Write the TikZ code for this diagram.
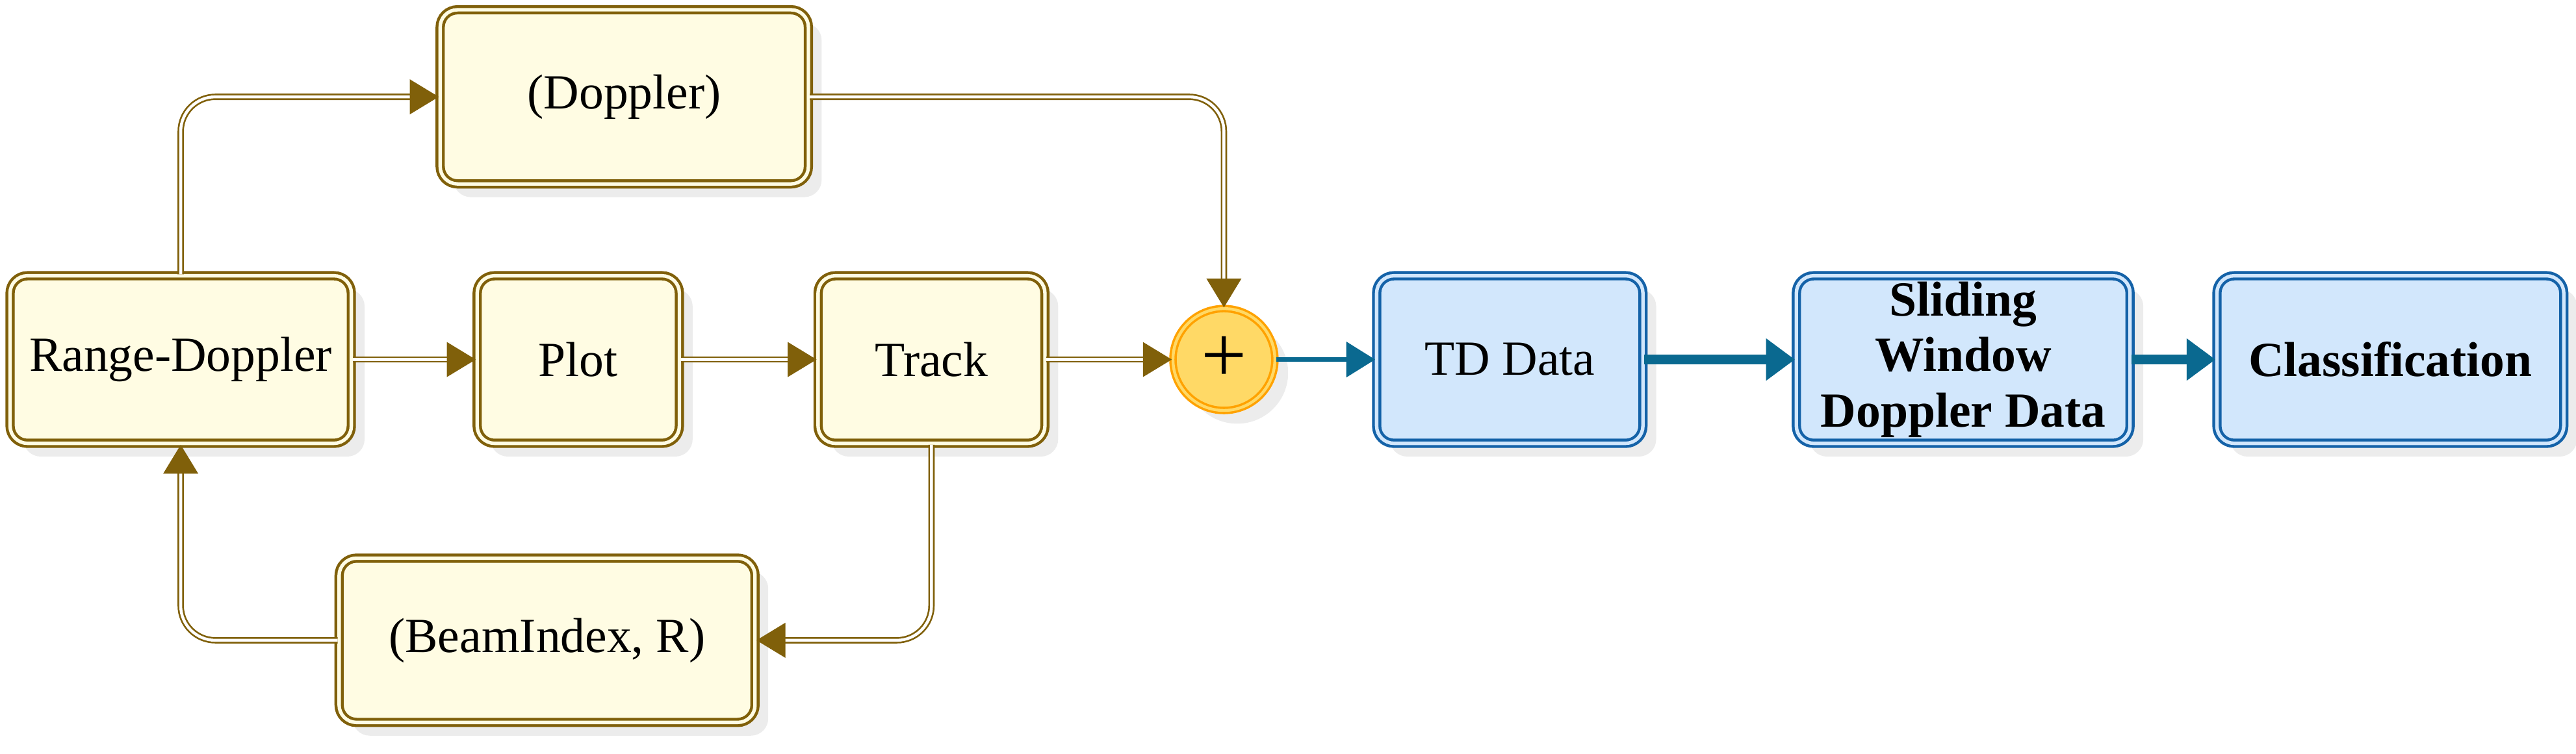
\documentclass[tikz,border=0pt]{standalone}
\usepackage{fontspec}
\setmainfont{Liberation Serif}
\usetikzlibrary{arrows.meta,positioning,shadows}
\definecolor{brn}{HTML}{80600A}
\definecolor{cream}{HTML}{FFFCE3}
\definecolor{bluedge}{HTML}{1462A8}
\definecolor{bluefill}{HTML}{D2E7FC}
\definecolor{bluearr}{HTML}{0A6990}
\definecolor{plusfill}{HTML}{FFD966}
\definecolor{plusedge}{HTML}{FFA200}
\begin{document}
\begin{tikzpicture}[x=0.01cm, y=0.01cm,
  every node/.style={font=\fontsize{8.5}{9.6}\selectfont},
  stage/.style={draw=brn, double=cream, double distance=0.6pt, line width=0.5pt, fill=cream, rounded corners=3pt, drop shadow={opacity=0.15}},
  data/.style={draw=bluedge, double=bluefill, double distance=0.6pt, line width=0.5pt, fill=bluefill, rounded corners=3pt, drop shadow={opacity=0.15}, font=\fontsize{8.5}{9.6}\selectfont\bfseries},
  flow/.style={draw=brn, double=white, double distance=0.5pt, line width=0.3pt, rounded corners=6pt, -{Triangle[length=5pt,width=6pt,fill=brn]}},
  feed/.style={draw=bluearr, line width=1.6pt, -{Triangle[length=5pt,width=7pt]}}]
  \useasboundingbox (0,0) rectangle (1568,-459);
  \node[stage, minimum width=2.04cm, minimum height=1.02cm] (rd) at (110,-219) {Range-Doppler};
  \node[stage, minimum width=1.23cm, minimum height=1.02cm] (plot) at (352,-219) {Plot};
  \node[stage, minimum width=1.38cm, minimum height=1.02cm] (track) at (567,-219) {Track};
  \node[stage, minimum width=2.24cm, minimum height=1.06cm] (dop) at (380,-59) {(Doppler)};
  \node[stage, minimum width=2.53cm, minimum height=1.0cm] (beam) at (333,-390) {(BeamIndex, R)};
  \node[circle, draw=plusedge, double=plusfill, double distance=0.5pt, fill=plusfill, minimum size=0.62cm, inner sep=0pt, drop shadow={opacity=0.15}, font=\fontsize{14}{14}\selectfont] (sum) at (745,-219) {+};
  \node[data, font=\fontsize{8.5}{10}\selectfont, minimum width=1.62cm, minimum height=1.02cm] (td) at (919,-219) {TD Data};
  \node[data, minimum width=2.03cm, minimum height=1.02cm, inner sep=1pt, align=center] (slide) at (1195,-219) {Sliding\\Window\\Doppler Data};
  \node[data, minimum width=2.11cm, minimum height=1.02cm, inner sep=1pt] (cls) at (1455,-219) {Classification};
  % main chain
  \draw[flow] (rd) -- (plot);
  \draw[flow] (plot) -- (track);
  \draw[flow] (track) -- (sum);
  \draw[flow] (rd.north) |- (dop.west);
  \draw[flow] (dop.east) -| (sum.north);
  \draw[flow] (track.south) |- (beam.east);
  \draw[flow] (beam.west) -| (rd.south);
  \draw[draw=bluearr, line width=0.8pt, -{Triangle[length=5pt,width=6pt]}] (sum) -- (td);
  \draw[feed] (td) -- (slide);
  \draw[feed] (slide) -- (cls);
\end{tikzpicture}
\end{document}
